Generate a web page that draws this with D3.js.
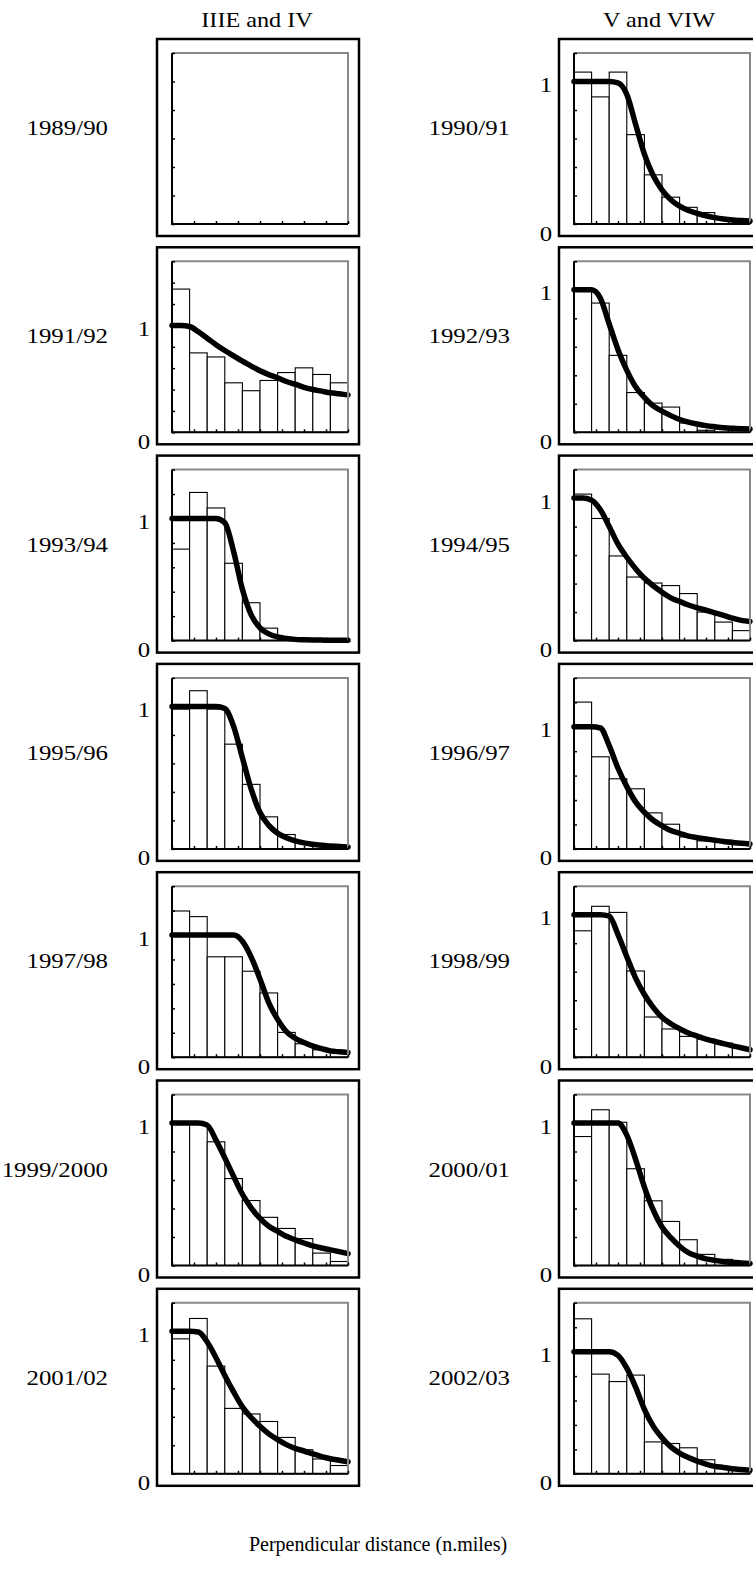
<!DOCTYPE html>
<html>
<head>
<meta charset="utf-8">
<script src="https://cdn.jsdelivr.net/npm/d3@7/dist/d3.min.js"></script>
<style>
  body { margin: 0; background: #fff; }
  text { font-family: "Liberation Serif", "Times New Roman", serif; fill: #000; }
</style>
</head>
<body>
<div id="chart"></div>
<script>
// ---- data ----
const columnTitles = ["IIIE and IV", "V and VIW"];
const seasonsLeft = ["1989/90", "1991/92", "1993/94", "1995/96", "1997/98", "1999/2000", "2001/02"];
const seasonsRight = ["1990/91", "1992/93", "1994/95", "1996/97", "1998/99", "2000/01", "2002/03"];
const xLabel = "Perpendicular distance (n.miles)";

// distance bins (n.miles), axis ticks, and the distances where the fitted curve was read
const binEdges = [0, 0.16, 0.32, 0.48, 0.64, 0.8, 0.96, 1.12, 1.28, 1.44, 1.6];
const xTicks = [0, 0.2, 0.4, 0.6, 0.8, 1.0, 1.2, 1.4, 1.6];
const fitDist = [0, 0.08, 0.16, 0.24, 0.32, 0.40, 0.48, 0.56, 0.64, 0.72, 0.80,
                 0.88, 0.96, 1.04, 1.12, 1.20, 1.28, 1.36, 1.44, 1.52, 1.60];

// y-axis top of each panel
const yMaxLeft = [1.2, 1.6, 1.4, 1.2, 1.4, 1.2, 1.2];
const yMaxRight = [1.2, 1.2, 1.2, 1.4, 1.2, 1.2, 1.4];

// scaled histogram heights
const bars8990 = [];
const bars9192 = [1.34, 0.743, 0.705, 0.463, 0.389, 0.485, 0.559, 0.603, 0.541, 0.463];
const bars9394 = [0.749, 1.213, 1.086, 0.633, 0.310, 0.102, 0.02, 0.01, 0, 0];
const bars9596 = [0.981, 1.110, 0.981, 0.735, 0.453, 0.225, 0.101, 0.042, 0.023, 0.019];
const bars9798 = [1.197, 1.151, 0.822, 0.822, 0.704, 0.526, 0.203, 0.110, 0.060, 0.047];
const bars9900 = [1.0, 1.0, 0.868, 0.610, 0.456, 0.338, 0.260, 0.189, 0.087, 0.028];
const bars0102 = [0.947, 1.090, 0.756, 0.459, 0.420, 0.367, 0.255, 0.169, 0.104, 0.058];
const bars9091 = [1.066, 0.892, 1.066, 0.627, 0.345, 0.188, 0.117, 0.080, 0.040, 0.033];
const bars9293 = [1.0, 0.907, 0.540, 0.279, 0.205, 0.177, 0.065, 0.014, 0.03, 0.03];
const bars9495 = [1.028, 0.857, 0.594, 0.446, 0.404, 0.386, 0.330, 0.20, 0.13, 0.07];
const bars9697 = [1.202, 0.754, 0.574, 0.492, 0.295, 0.202, 0.098, 0.066, 0.071, 0.049];
const bars9899 = [0.887, 1.059, 1.016, 0.605, 0.282, 0.198, 0.146, 0.127, 0.099, 0.064];
const bars0001 = [0.905, 1.093, 1.005, 0.679, 0.454, 0.309, 0.181, 0.078, 0.043, 0.019];
const bars0203 = [1.269, 0.816, 0.755, 0.808, 0.261, 0.248, 0.213, 0.115, 0.048, 0.035];

// fitted detection function g(x), read at fitDist
const fit8990 = [];
const fit9192 = [1, 1, 0.99, 0.94, 0.88, 0.82, 0.765, 0.715, 0.665, 0.62, 0.575, 0.54, 0.51, 0.475, 0.45, 0.42, 0.40, 0.385, 0.37, 0.36, 0.35];
const fit9394 = [1, 1, 1, 1, 1, 1, 0.965, 0.73, 0.42, 0.21, 0.105, 0.055, 0.03, 0.018, 0.01, 0.007, 0.005, 0.004, 0.003, 0.003, 0.003];
const fit9596 = [1, 1, 1, 1, 1, 1, 0.985, 0.86, 0.64, 0.42, 0.255, 0.165, 0.11, 0.078, 0.056, 0.042, 0.033, 0.025, 0.02, 0.016, 0.014];
const fit9798 = [1, 1, 1, 1, 1, 1, 1, 1, 0.95, 0.82, 0.64, 0.445, 0.31, 0.21, 0.155, 0.12, 0.09, 0.07, 0.052, 0.044, 0.038];
const fit9900 = [1, 1, 1, 1, 0.985, 0.88, 0.755, 0.625, 0.50, 0.405, 0.33, 0.275, 0.24, 0.205, 0.18, 0.158, 0.138, 0.123, 0.11, 0.097, 0.083];
const fit0102 = [1, 1, 1, 0.995, 0.925, 0.815, 0.69, 0.575, 0.47, 0.395, 0.333, 0.28, 0.24, 0.205, 0.178, 0.16, 0.14, 0.121, 0.106, 0.095, 0.084];
const fit9091 = [1, 1, 1, 1, 1, 0.99, 0.91, 0.70, 0.49, 0.34, 0.24, 0.17, 0.125, 0.095, 0.075, 0.058, 0.045, 0.035, 0.028, 0.024, 0.021];
const fit9293 = [1, 1, 1, 0.94, 0.76, 0.58, 0.435, 0.32, 0.245, 0.185, 0.148, 0.117, 0.09, 0.071, 0.058, 0.047, 0.039, 0.032, 0.028, 0.025, 0.023];
const fit9495 = [1, 1, 0.985, 0.918, 0.80, 0.677, 0.585, 0.505, 0.437, 0.385, 0.34, 0.30, 0.275, 0.25, 0.23, 0.213, 0.195, 0.177, 0.157, 0.142, 0.134];
const fit9697 = [1, 1, 1, 0.99, 0.845, 0.66, 0.51, 0.385, 0.30, 0.235, 0.19, 0.15, 0.128, 0.105, 0.092, 0.081, 0.071, 0.061, 0.053, 0.046, 0.041];
const fit9899 = [1, 1, 1, 1, 0.99, 0.86, 0.705, 0.555, 0.44, 0.35, 0.28, 0.235, 0.20, 0.17, 0.148, 0.126, 0.11, 0.095, 0.08, 0.066, 0.052];
const fit0001 = [1, 1, 1, 1, 1, 1, 0.915, 0.745, 0.55, 0.39, 0.27, 0.195, 0.135, 0.09, 0.066, 0.047, 0.036, 0.027, 0.022, 0.017, 0.014];
const fit0203 = [1, 1, 1, 1, 1, 0.97, 0.865, 0.71, 0.528, 0.39, 0.295, 0.22, 0.17, 0.133, 0.104, 0.08, 0.061, 0.052, 0.042, 0.035, 0.029];

const barsLeft = [bars8990, bars9192, bars9394, bars9596, bars9798, bars9900, bars0102];
const barsRight = [bars9091, bars9293, bars9495, bars9697, bars9899, bars0001, bars0203];
const fitsLeft = [fit8990, fit9192, fit9394, fit9596, fit9798, fit9900, fit0102];
const fitsRight = [fit9091, fit9293, fit9495, fit9697, fit9899, fit0001, fit0203];

// ---- layout ----
const width = 753, height = 1575;
const plotW = 176, plotH = 171;
const colX = [172, 574];
const rowY0 = 53, rowStep = 208.3;
const fontSize = 22;

const svg = d3.select("#chart").append("svg")
    .attr("width", width)
    .attr("height", height);

const x = d3.scaleLinear().domain([0, 1.6]).range([0, plotW]);

// the figure's lettering is a little wider than plain Times
function addText(parent, px, py, str, anchor, sx) {
    parent.append("text")
        .attr("transform", "translate(" + px + "," + py + ") scale(" + sx + ",1)")
        .attr("text-anchor", anchor)
        .style("font-size", fontSize + "px")
        .text(str);
}

const columns = [
    { title: columnTitles[0], seasons: seasonsLeft, yMax: yMaxLeft, bars: barsLeft, fits: fitsLeft },
    { title: columnTitles[1], seasons: seasonsRight, yMax: yMaxRight, bars: barsRight, fits: fitsRight }
];

columns.forEach(function(col, c) {
    const px = colX[c];
    addText(svg, px + 85, 27, col.title, "middle", 1.1);

    col.seasons.forEach(function(season, r) {
        const py = rowY0 + r * rowStep;
        const y = d3.scaleLinear().domain([0, col.yMax[r]]).range([plotH, 0]);

        // outer frame
        svg.append("rect")
            .attr("x", px - 15).attr("y", py - 14)
            .attr("width", plotW + 26).attr("height", plotH + 26)
            .attr("fill", "none").attr("stroke", "#000").attr("stroke-width", 2.5);

        addText(svg, px - 64, py + 82, season, "end", 1.13);

        const g = svg.append("g").attr("transform", "translate(" + px + "," + py + ")");

        const bars = col.bars[r];
        g.selectAll("rect.bar")
            .data(bars)
            .enter().append("rect")
            .attr("class", "bar")
            .attr("x", function(d, i) { return x(binEdges[i]); })
            .attr("width", function(d, i) { return x(binEdges[i + 1]) - x(binEdges[i]); })
            .attr("y", function(d) { return y(d); })
            .attr("height", function(d) { return plotH - y(d); })
            .attr("fill", "#fff")
            .attr("stroke", "#000")
            .attr("stroke-width", 1.1);

        const fit = col.fits[r];
        if (fit.length) {
            const line = d3.line()
                .x(function(d, i) { return x(fitDist[i]); })
                .y(function(d) { return y(d); })
                .curve(d3.curveMonotoneX);
            g.append("path")
                .attr("d", line(fit))
                .attr("fill", "none")
                .attr("stroke", "#000")
                .attr("stroke-width", 5.5)
                .attr("stroke-linecap", "round")
                .attr("stroke-linejoin", "round");
        }

        // frame of the plot area: grey top/right, black left/bottom
        g.append("path")
            .attr("d", "M0,0H" + plotW + "V" + plotH)
            .attr("fill", "none").attr("stroke", "#888").attr("stroke-width", 2);
        g.append("path")
            .attr("d", "M0,0V" + plotH + "H" + plotW)
            .attr("fill", "none").attr("stroke", "#000").attr("stroke-width", 2);

        const yTicks = d3.range(0, col.yMax[r] + 1e-6, 0.2);
        const yAxis = g.append("g")
            .call(d3.axisRight(y).tickValues(yTicks).tickSize(3).tickFormat(""));
        yAxis.select(".domain").remove();
        yAxis.selectAll("line").attr("stroke-width", 1.5);

        const xAxis = g.append("g")
            .attr("transform", "translate(0," + plotH + ")")
            .call(d3.axisTop(x).tickValues(xTicks).tickSize(3).tickFormat(""));
        xAxis.select(".domain").remove();
        xAxis.selectAll("line").attr("stroke-width", 1.5);

        if (bars.length) {
            addText(svg, px - 28, py + y(1) + 10.5, "1", "middle", 1.13);
            addText(svg, px - 28, py + plotH + 16.5, "0", "middle", 1.13);
        }
    });
});

svg.append("text")
    .attr("x", 378)
    .attr("y", 1551)
    .attr("text-anchor", "middle")
    .style("font-size", "20px")
    .text(xLabel);
</script>
</body>
</html>
